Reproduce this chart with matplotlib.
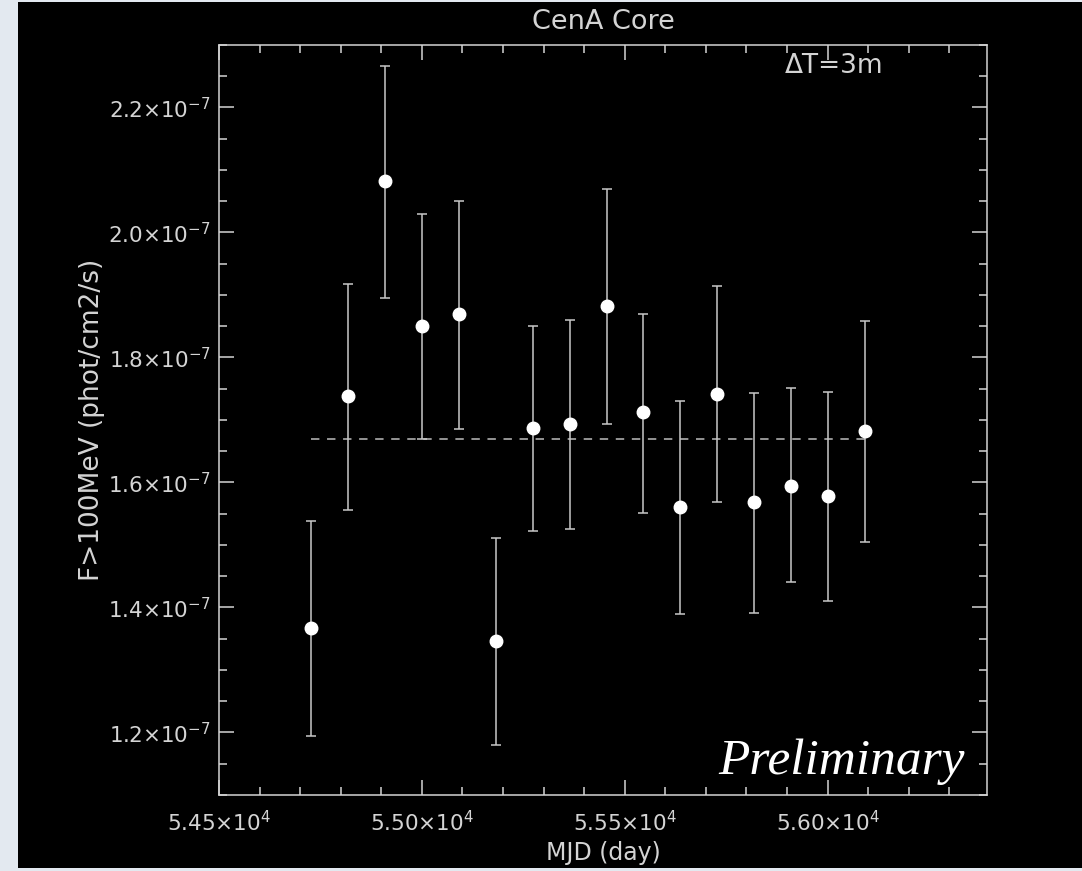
import matplotlib
matplotlib.use("Agg")
import matplotlib.pyplot as plt
from matplotlib.patches import Rectangle
from matplotlib.ticker import FuncFormatter, MultipleLocator

# 3-month binned light curve, CenA core (flux in 1e-7 phot/cm2/s)
mjd = [54727, 54818, 54909, 55001, 55092, 55183, 55274, 55366,
       55457, 55546, 55637, 55728, 55819, 55911, 56002, 56093]
flux = [1.367, 1.738, 2.082, 1.851, 1.870, 1.347, 1.687, 1.693,
        1.883, 1.712, 1.560, 1.742, 1.568, 1.595, 1.578, 1.682]
flux_hi = [1.538, 1.917, 2.266, 2.030, 2.050, 1.512, 1.851, 1.860,
           2.070, 1.870, 1.730, 1.914, 1.743, 1.751, 1.744, 1.858]
flux_lo = [1.195, 1.556, 1.896, 1.670, 1.685, 1.180, 1.522, 1.525,
           1.693, 1.551, 1.389, 1.569, 1.392, 1.440, 1.410, 1.504]
mean_flux = 1.670

SCALE = 1e-7
FG = "#d4d4d4"

plt.rcParams["mathtext.default"] = "regular"
plt.rcParams["font.family"] = ["DejaVu Sans"]

fig = plt.figure(figsize=(10.82, 8.71), dpi=100, facecolor="#e3e9f0")
# black canvas inside the light frame
fig.patches.append(Rectangle((18 / 1082, 3 / 871), 1 - 18 / 1082, 866 / 871,
                             transform=fig.transFigure, facecolor="black",
                             edgecolor="none", zorder=-10))

ax = fig.add_axes([219 / 1082, 76 / 871, 768 / 1082, 750 / 871])
ax.set_facecolor("black")

y = [v * SCALE for v in flux]
yerr = [[(f - lo) * SCALE for f, lo in zip(flux, flux_lo)],
        [(hi - f) * SCALE for f, hi in zip(flux, flux_hi)]]

ax.errorbar(mjd, y, yerr=yerr, fmt="none", ecolor="#c8c8c8",
            elinewidth=1.1, capsize=3.3, capthick=1.1, zorder=2)
ax.plot(mjd, y, "o", color="white", markersize=9, zorder=3)

# average flux over the full span
ax.plot([mjd[0], mjd[-1]], [mean_flux * SCALE] * 2, color="#bdbdbd",
        linewidth=1.1, dashes=(5.5, 5), zorder=1)

ax.set_xlim(54500, 56393)
ax.set_ylim(1.1e-7, 2.3e-7)

ax.xaxis.set_major_locator(MultipleLocator(500))
ax.xaxis.set_minor_locator(MultipleLocator(100))
ax.yaxis.set_major_locator(MultipleLocator(0.2e-7))
ax.yaxis.set_minor_locator(MultipleLocator(0.05e-7))
ax.xaxis.set_major_formatter(FuncFormatter(
    lambda v, p: f"{v / 1e4:.2f}×10$^{{4}}$"))
ax.yaxis.set_major_formatter(FuncFormatter(
    lambda v, p: f"{v / 1e-7:.1f}×10$^{{-7}}$"))

ax.tick_params(which="both", direction="in", top=True, right=True,
               color=FG, labelcolor=FG, width=1.1)
ax.tick_params(which="major", length=11, labelsize=15.5)
ax.tick_params(axis="x", which="major", pad=11)
ax.tick_params(axis="y", which="major", pad=6)
ax.tick_params(which="minor", length=5.5)
for s in ax.spines.values():
    s.set_color(FG)
    s.set_linewidth(1.1)

ax.set_xlabel("MJD (day)", color=FG, fontsize=17, va="center")
ax.xaxis.set_label_coords(0.5, -0.077)
ax.set_ylabel("F>100MeV (phot/cm2/s)", color=FG, fontsize=19, va="center")
ax.yaxis.set_label_coords(-0.165, 0.5)

ax.text(0.5, 1.031, "CenA Core", transform=ax.transAxes, color=FG,
        fontsize=19.5, ha="center", va="center")
ax.text(0.737, 0.972, "ΔT=3m", transform=ax.transAxes, color=FG,
        fontsize=19, ha="left", va="center")
ax.text(0.971, 0.028, "Preliminary", transform=ax.transAxes, color="white",
        fontsize=37, ha="right", va="baseline",
        family=["Liberation Serif", "DejaVu Serif"], style="italic")

fig.savefig("out.png", dpi=100, facecolor=fig.get_facecolor())
